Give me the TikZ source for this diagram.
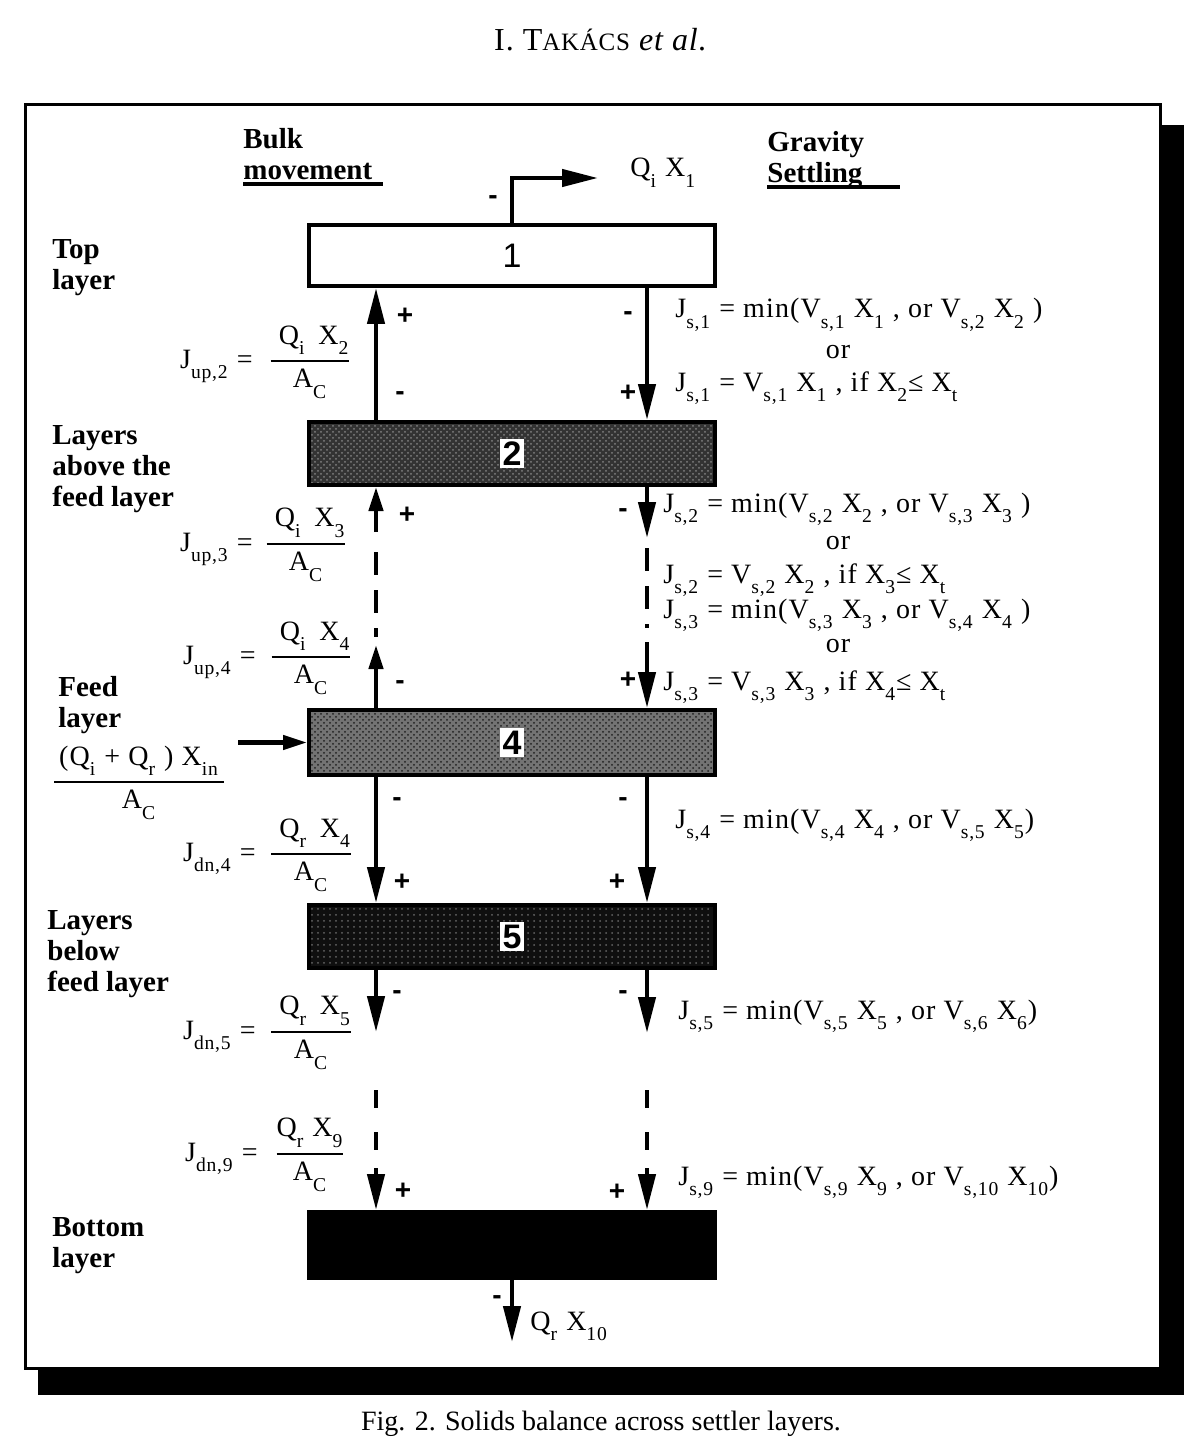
\documentclass[tikz,border=0pt]{standalone}
\usepackage{fontspec}
\setmainfont{Liberation Serif}
\setsansfont{Liberation Sans}
\usetikzlibrary{arrows.meta,patterns}
\newcommand{\sbs}[1]{\raisebox{-0.22em}{\textsubscript{#1}}}
\newcommand{\eqf}{\fontsize{14}{16}\selectfont\addfontfeature{LetterSpace=4}}
\newcommand{\frc}[2]{$\displaystyle{\mbox{#1}\above 0.9pt\mbox{#2}}$}
\begin{document}
\begin{tikzpicture}[x=0.5pt,y=-0.5pt,
  ln/.style={line width=2.2pt},
  arrL/.style={line width=2.2pt,-{Triangle[length=18pt,width=8.5pt]}},
  arrS/.style={line width=2.2pt,-{Triangle[length=12pt,width=7pt]}},
  dsh/.style={line width=2.4pt,dash pattern=on 11.5pt off 7.5pt},
  lay/.style={draw=black,line width=2pt,minimum width=203pt,inner sep=0pt},
  num/.style={font=\sffamily\bfseries\fontsize{17}{17}\selectfont,fill=white,inner sep=1.5pt},
  pm/.style={font=\sffamily\bfseries\fontsize{14}{14}\selectfont,inner sep=0pt},
  side/.style={font=\bfseries\fontsize{14.5}{15.5}\selectfont,align=left,anchor=north west,inner sep=0pt},
  eq/.style={font=\eqf,anchor=base west,inner sep=0pt},
  jl/.style={font=\eqf,anchor=base east,inner sep=0pt},
  fr/.style={font=\eqf,anchor=base,inner sep=0pt}]
\useasboundingbox (0,0) rectangle (1201,1449);
% header and caption
\node[font=\fontsize{16}{18}\selectfont\addfontfeature{LetterSpace=3}] (hdr) at (601,40) {I. T{\fontsize{12.5}{14}\selectfont\addfontfeature{LetterSpace=3} AKÁCS} \textit{et al.}};
\node[font=\fontsize{14}{17}\selectfont,anchor=base] (cap) at (601,1430) {Fig. 2. Solids balance across settler layers.};
% frame with shadow
\fill[black] (1160,125) rectangle (1184,1395);
\fill[black] (38,1368) rectangle (1184,1395);
\draw[line width=1.5pt,fill=white] (25,105) rectangle (1160,1368);
% column coordinates
\coordinate (L) at (376,0);
\coordinate (R) at (647,0);
% layers
\node[lay,fill=white,minimum height=30.5pt] (b1) at (512,255.5) {};
\node[lay,minimum height=31.5pt,preaction={fill=black!80},pattern=crosshatch dots,pattern color=black!50] (b2) at (512,453.5) {};
\node[lay,minimum height=32.5pt,preaction={fill=black!55},pattern=crosshatch dots,pattern color=black!88] (b4) at (512,742.5) {};
\node[lay,minimum height=31.5pt,preaction={fill=black!94},pattern=dots,pattern color=black!60] (b5) at (512,936.5) {};
\node[lay,fill=black,minimum height=33pt] (b6) at (512,1245) {};
\node[font=\sffamily\fontsize{17}{17}\selectfont,inner sep=0pt] (n1) at (b1) {1};
\node[num] (n2) at (b2) {2};
\node[num] (n4) at (b4) {4};
\node[num] (n5) at (b5) {5};
% headers
\node[side] (hb) at (243,128) {Bulk\\movement};
\draw[line width=1.6pt] (243,184) -- (383,184);
\node[side] (hg) at (767,131) {Gravity\\Settling};
\draw[line width=1.6pt] (767,187) -- (900,187);
% side labels
\node[side] (lt) at (52,239) {Top\\layer};
\node[side] (la) at (52,425) {Layers\\above the\\feed layer};
\node[side] (lf) at (58,676) {Feed\\layer};
\node[side] (lb) at (47,910) {Layers\\below\\feed layer};
\node[side] (lbt) at (52,1217) {Bottom\\layer};
% top outlet
\coordinate (qout) at (598,178);
\draw[arrL] (b1.north) |- (qout);
\node[eq] (qx1) at (630,177) {Q\sbs{i} X\sbs{1}};
\node[pm] (m0) at (493,200) {-};
% box 1 - box 2
\draw[arrL] (b2.north -| L) -- (b1.south -| L);
\draw[arrL] (b1.south -| R) -- (b2.north -| R);
\node[pm] at (405,316) {+};
\node[pm] at (400,396) {-};
\node[pm] at (628,316) {-};
\node[pm] at (628,393) {+};
% box 2 - box 4
\coordinate (l2a) at (376,532);
\coordinate (l2b) at (376,552);
\coordinate (l2c) at (376,637);
\coordinate (l2d) at (376,645);
\draw[arrS] (l2a) -- (b2.south -| L);
\draw[dsh] (l2b) -- (l2c);
\draw[arrS] (b4.north -| L) -- (l2d);
\coordinate (r2a) at (647,538);
\coordinate (r2b) at (647,548);
\coordinate (r2c) at (647,628);
\coordinate (r2d) at (647,642);
\draw[arrL] (b2.south -| R) -- (r2a);
\draw[dsh] (r2b) -- (r2c);
\draw[arrL] (r2d) -- (b4.north -| R);
\node[pm] at (407,515) {+};
\node[pm] at (400,685) {-};
\node[pm] at (623,513) {-};
\node[pm] at (628,680) {+};
% box 4 - box 5
\draw[arrL] (b4.south -| L) -- (b5.north -| L);
\draw[arrL] (b4.south -| R) -- (b5.north -| R);
\node[pm] at (397,802) {-};
\node[pm] at (402,882) {+};
\node[pm] at (623,802) {-};
\node[pm] at (617,882) {+};
% box 5 downwards
\coordinate (l5a) at (376,1032);
\coordinate (r5a) at (647,1033);
\draw[arrL] (b5.south -| L) -- (l5a);
\draw[arrL] (b5.south -| R) -- (r5a);
\node[pm] at (397,995) {-};
\node[pm] at (623,995) {-};
\coordinate (l6a) at (376,1090);
\coordinate (l6b) at (376,1150);
\coordinate (l6c) at (376,1168);
\coordinate (r6a) at (647,1090);
\coordinate (r6b) at (647,1150);
\coordinate (r6c) at (647,1168);
\draw[dsh,dash pattern=on 9pt off 12pt] (l6a) -- (l6b);
\draw[dsh,dash pattern=on 9pt off 12pt] (r6a) -- (r6b);
\draw[arrL] (l6c) -- (b6.north -| L);
\draw[arrL] (r6c) -- (b6.north -| R);
\node[pm] at (403,1191) {+};
\node[pm] at (617,1192) {+};
% bottom outlet
\coordinate (qbot) at (512,1342);
\draw[arrL] (b6.south) -- (qbot);
\node[pm] at (497,1300) {-};
\node[eq] (qx10) at (530,1330) {Q\sbs{r} X\sbs{10}};
% feed
\coordinate (feed) at (238,742.5);
\draw[arrS] (feed) -- (b4.west);
\node[fr] (ffeed) at (139,789) {\frc{\,(Q\sbs{i} + Q\sbs{r} ) X\sbs{in}\,}{A\sbs{C}}};
% bulk flux labels
\node[jl] (j2) at (253,368) {J\sbs{up,2} =};
\node[fr] (f2) at (310,368) {\frc{\ Q\sbs{i}\, X\sbs{2}}{A\sbs{C}}};
\node[jl] (j3) at (253,551) {J\sbs{up,3} =};
\node[fr] (f3) at (306,551) {\frc{\ Q\sbs{i}\, X\sbs{3}}{A\sbs{C}}};
\node[jl] (j4) at (256,664) {J\sbs{up,4} =};
\node[fr] (f4) at (311,664) {\frc{\ Q\sbs{i}\, X\sbs{4}}{A\sbs{C}}};
\node[jl] (j5) at (256,861) {J\sbs{dn,4} =};
\node[fr] (f5) at (311,861) {\frc{\ Q\sbs{r}\, X\sbs{4}}{A\sbs{C}}};
\node[jl] (j6) at (256,1039) {J\sbs{dn,5} =};
\node[fr] (f6) at (311,1039) {\frc{\ Q\sbs{r}\, X\sbs{5}}{A\sbs{C}}};
\node[jl] (j7) at (258,1161) {J\sbs{dn,9} =};
\node[fr] (f7) at (310,1161) {\frc{Q\sbs{r} X\sbs{9}}{A\sbs{C}}};
% settling flux equations
\node[eq] (e1) at (675,318) {J\sbs{s,1} = min(V\sbs{s,1} X\sbs{1} , or V\sbs{s,2} X\sbs{2} )};
\node[eq,anchor=base] (o1) at (838,358) {or};
\node[eq] (e2) at (675,391) {J\sbs{s,1} = V\sbs{s,1} X\sbs{1} , if X\sbs{2}≤ X\sbs{t}};
\node[eq] (e3) at (663,512) {J\sbs{s,2} = min(V\sbs{s,2} X\sbs{2} , or V\sbs{s,3} X\sbs{3} )};
\node[eq,anchor=base] (o2) at (838,549) {or};
\node[eq] (e4) at (663,583) {J\sbs{s,2} = V\sbs{s,2} X\sbs{2} , if X\sbs{3}≤ X\sbs{t}};
\node[eq] (e5) at (663,618) {J\sbs{s,3} = min(V\sbs{s,3} X\sbs{3} , or V\sbs{s,4} X\sbs{4} )};
\node[eq,anchor=base] (o3) at (838,652) {or};
\node[eq] (e6) at (663,690) {J\sbs{s,3} = V\sbs{s,3} X\sbs{3} , if X\sbs{4}≤ X\sbs{t}};
\node[eq] (e7) at (675,828) {J\sbs{s,4} = min(V\sbs{s,4} X\sbs{4} , or V\sbs{s,5} X\sbs{5})};
\node[eq] (e8) at (678,1019) {J\sbs{s,5} = min(V\sbs{s,5} X\sbs{5} , or V\sbs{s,6} X\sbs{6})};
\node[eq] (e9) at (678,1185) {J\sbs{s,9} = min(V\sbs{s,9} X\sbs{9} , or V\sbs{s,10} X\sbs{10})};
\end{tikzpicture}
\end{document}
